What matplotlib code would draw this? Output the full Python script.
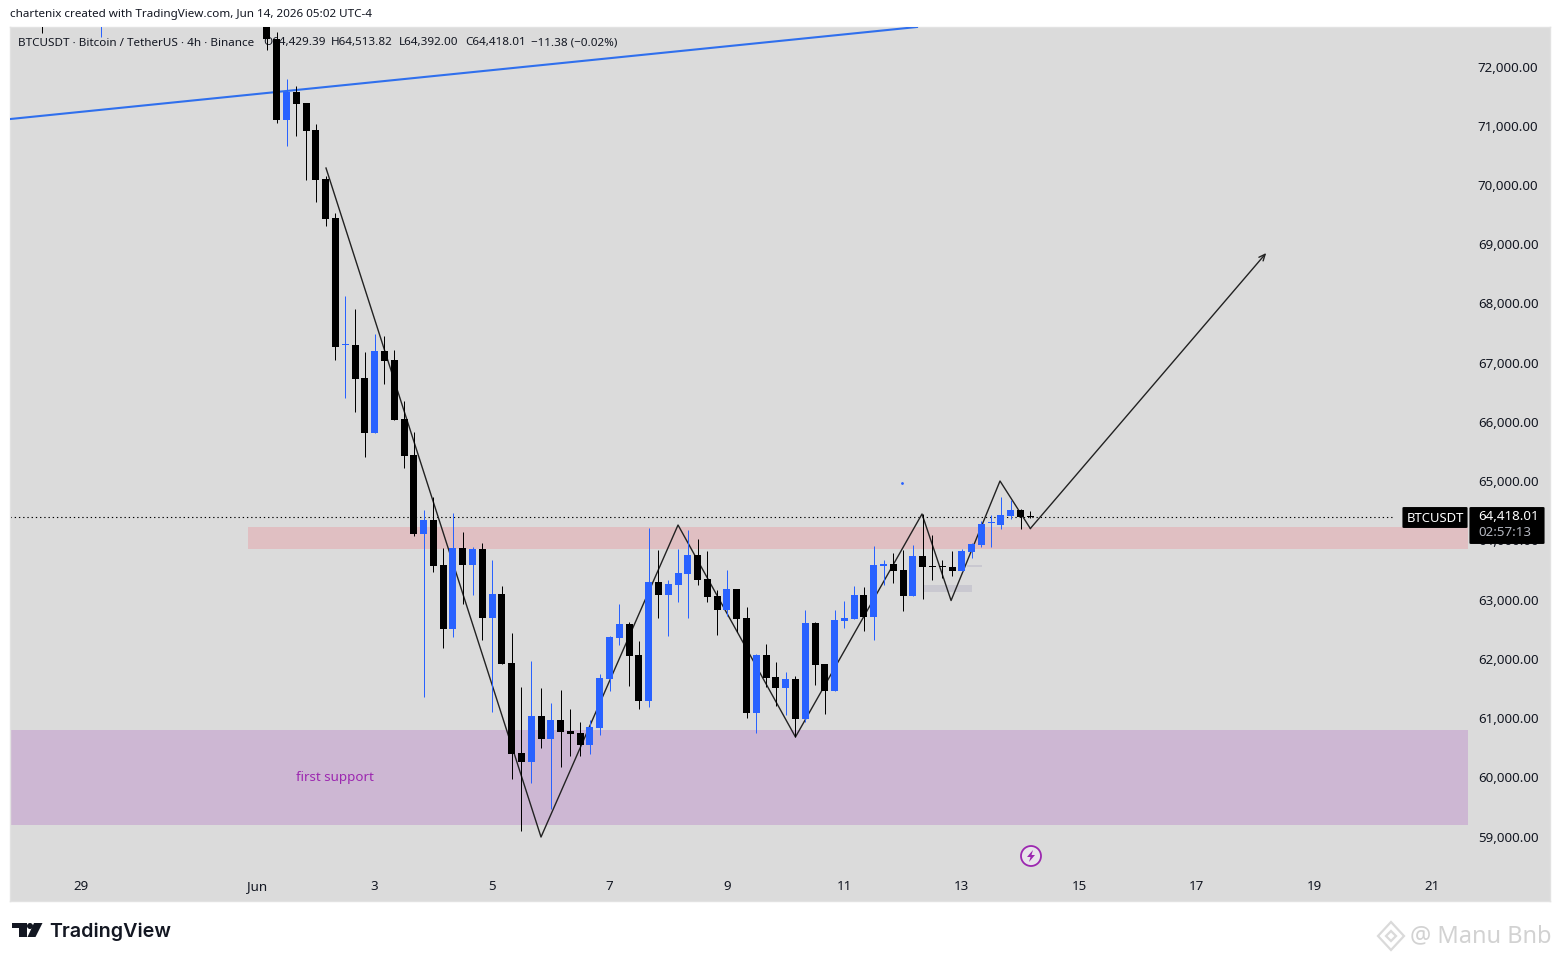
import matplotlib
matplotlib.use('Agg')
import matplotlib.pyplot as plt
from matplotlib.patches import Polygon, Circle, FancyBboxPatch, Rectangle
from matplotlib.transforms import IdentityTransform, ScaledTranslation

plt.rcParams['font.family'] = ['Noto Sans', 'DejaVu Sans']

# 4h candles, first one is index 0
open_ = [72971, 72481, 71114, 71586, 71401, 70945, 70117, 69459, 67307, 67315,
         66758, 65829, 67214, 67062, 66066, 65458, 64124, 64360, 63601, 62520,
         63888, 63601, 63871, 62706, 63111, 61946, 60427, 60275, 61051, 60663,
         60984, 60798, 60764, 60562, 60849, 61676, 62368, 62605, 62081, 61305,
         63314, 63094, 63263, 63449, 63769, 63364, 63077, 62841, 63195, 62706,
         61102, 62081, 61710, 61524, 61676, 61001, 62621, 61929, 61473, 62655,
         62689, 63094, 62723, 63584, 63618, 63516, 63077, 63752, 63590, 63590,
         63567, 63499, 63820, 63938, 64302, 64276, 64428, 64529, 64429.39]
high = [73139, 72599, 71806, 71688, 71401, 71046, 70168, 69543, 68142, 67923,
        67197, 67501, 67467, 67230, 66369, 65846, 64529, 64749, 63888, 64479,
        64158, 63905, 63972, 63685, 63246, 62453, 61541, 61980, 61524, 61271,
        61490, 61170, 60950, 60984, 61760, 62402, 62942, 62638, 62317, 64225,
        63854, 63347, 63871, 64191, 64040, 63837, 63178, 63516, 63195, 62892,
        62098, 62267, 61963, 61794, 61727, 62841, 62638, 61929, 62841, 62993,
        63246, 63229, 63921, 63685, 63803, 63854, 63938, 64462, 64107, 63685,
        63837, 63871, 63972, 64343, 64445, 64749, 64698, 64546, 64513.82]
low = [72295, 71063, 70675, 70843, 70101, 69729, 69324, 67062, 66420, 66184,
       65424, 65829, 66656, 66049, 65238, 64090, 61372, 63482, 62199, 62385,
       62942, 63094, 62334, 61119, 61929, 59988, 59110, 59920, 60511, 59481,
       60190, 60376, 60376, 60410, 60731, 61473, 62250, 61558, 61170, 61203,
       62706, 62402, 62976, 62706, 63263, 62976, 62419, 62740, 62470, 61017,
       60764, 61541, 61220, 61068, 60697, 60950, 61575, 61085, 61473, 62537,
       62689, 62486, 62334, 63263, 63297, 62824, 63077, 63027, 63347, 63381,
       63415, 63499, 63719, 63905, 63905, 64208, 64377, 64208, 64392.00]
close = [72481, 71114, 71586, 71384, 70928, 70101, 69442, 67281, 67324, 66741,
         65829, 67214, 67045, 66049, 65441, 64124, 64360, 63584, 62520, 63888,
         63601, 63871, 62706, 63111, 61929, 60410, 60275, 61051, 60663, 60984,
         60781, 60747, 60562, 60866, 61693, 62385, 62605, 62064, 61305, 63314,
         63094, 63280, 63465, 63769, 63347, 63060, 62841, 63195, 62689, 61102,
         62081, 61693, 61524, 61676, 61001, 62621, 61912, 61473, 62672, 62706,
         63094, 62723, 63601, 63618, 63499, 63077, 63752, 63567, 63573, 63573,
         63499, 63837, 63955, 64293, 64319, 64445, 64529, 64411, 64418.01]
# tails of older candles that only just reach into the top of the chart
old_idx = [-23, -17]
old_low = [72582, 72515]
old_high = [72800, 72800]

y_ticks = [59000, 60000, 61000, 62000, 63000, 64000, 65000, 66000, 67000, 68000, 69000, 70000, 71000, 72000]
x_ticks = [-19, -1, 11, 23, 35, 47, 59, 71, 83, 95, 107, 119]
x_labels = ['29', 'Jun', '3', '5', '7', '9', '11', '13', '15', '17', '19', '21']

trend_x = [-26.26, 66.42]
trend_y = [71130, 72684]
swing_x = [6.03, 28.0, 42.0, 54.0, 66.93, 69.9, 74.9, 78.0, 102.1]
swing_y = [70303, 59008, 64276, 60697, 64462, 63001, 65019, 64217, 68868]
resist_x = [-1.94, 122.7]
resist_y = [63871, 64242]
support_x = [-26.26, 122.7]
support_y = [59211, 60815]
grey_x = [67.0, 72.0]
grey_y = [63143, 63262]
grey2_x = [71.5, 73.1]
grey2_y = [63566, 63600]
last_price = 64418.01

BLUE = '#2962FF'
BLACK = '#000000'
PANEL = '#DBDBDB'


def fx(x):
    return x / 1560


def fy(y):
    return 1 - y / 961


fig = plt.figure(figsize=(15.6, 9.61), dpi=100, facecolor='white')
ax = fig.add_axes([fx(10), fy(901), fx(1540), 874 / 961], facecolor=PANEL)
ax.set_xlim(-26.26, 131.1)
ax.set_ylim(57928, 72684)
for s in ax.spines.values():
    s.set_color('#E2E2E2')
    s.set_linewidth(1)

ax.set_yticks(y_ticks)
ax.set_yticklabels(['{:,.2f}'.format(v) for v in y_ticks], fontsize=9.6, color='#131722', va='center_baseline')
ax.yaxis.tick_right()
ax.tick_params(axis='y', length=0, pad=-52)
up_one = ScaledTranslation(0, 1 / 100, fig.dpi_scale_trans)
for lab in ax.get_yticklabels():
    lab.set_transform(lab.get_transform() + up_one)
ax.set_xticks(x_ticks)
ax.set_xticklabels(x_labels, fontsize=9.6, color='#131722')
ax.tick_params(axis='x', length=0, pad=-15)

# zones
ax.add_patch(Rectangle((resist_x[0], resist_y[0]), resist_x[1] - resist_x[0], resist_y[1] - resist_y[0],
                       facecolor='#E0BFC2', edgecolor='none', zorder=1))
ax.add_patch(Rectangle((support_x[0], support_y[0]), support_x[1] - support_x[0], support_y[1] - support_y[0],
                       facecolor='#CDB7D3', edgecolor='none', zorder=1))
ax.add_patch(Rectangle((grey_x[0], grey_y[0]), grey_x[1] - grey_x[0], grey_y[1] - grey_y[0],
                       facecolor='#C9C8D0', edgecolor='none', zorder=1))
ax.add_patch(Rectangle((grey2_x[0], grey2_y[0]), grey2_x[1] - grey2_x[0], grey2_y[1] - grey2_y[0],
                       facecolor='#C9C8D0', edgecolor='none', zorder=1))
ax.text(6.95, 60021, 'first support', color='#9C27B0', fontsize=9.6, ha='center', va='center', zorder=2)

# last price
ax.plot([-26.26, 115.2], [last_price, last_price], color='black', lw=0.8, linestyle=(0, (1.2, 2.6)), zorder=2)

# drawings sit under the candles
ax.plot(trend_x, trend_y, color='#2F6FED', lw=1.5, zorder=3)
ax.plot(swing_x[:-1], swing_y[:-1], color='#222222', lw=1.0, zorder=3)
ax.annotate('', xy=(swing_x[-1], swing_y[-1]), xytext=(swing_x[-2], swing_y[-2]), zorder=3,
            arrowprops=dict(arrowstyle='->,head_length=0.45,head_width=0.2', color='#222222', lw=1.0,
                            shrinkA=0, shrinkB=0))
ax.plot([64.9], [64990], marker='o', ms=1.0, color=BLUE, zorder=3)

# legend line under the candles too
legend_parts = [(18, 'BTCUSDT · Bitcoin / TetherUS · 4h · Binance'), (263, 'O64,429.39'), (331, 'H64,513.82'),
                (399, 'L64,392.00'), (465, 'C64,418.01'), (531, '−11.38 (−0.02%)')]
for x, s in legend_parts:
    ax.text(fx(x), fy(43), s, transform=fig.transFigure, fontsize=8.4, color='#131722',
            va='center', ha='left', zorder=2.5)

# candles
idx = list(range(len(open_)))
cols = [BLUE if c > o else BLACK for o, c in zip(open_, close)]
ax.vlines(idx, low, high, colors=cols, lw=0.72, snap=True, zorder=4)
ax.vlines(old_idx, old_low, old_high, colors=[BLACK, BLUE], lw=0.72, snap=True, zorder=4)
bottoms = [min(o, c) for o, c in zip(open_, close)]
heights = [max(abs(c - o), 17) for o, c in zip(open_, close)]
ax.bar(idx, heights, bottom=bottoms, width=0.715, color=cols, linewidth=0, zorder=5)

# header
fig.text(fx(10), fy(15), 'chartenix created with TradingView.com, Jun 14, 2026 05:02 UTC-4', fontsize=8.4,
         color='#131722', va='center', ha='left')

# price labels over the axis
pix = fig.transFigure
ax.add_patch(FancyBboxPatch((fx(1404), fy(527)), fx(62), 19 / 961, boxstyle='round,pad=0.001,rounding_size=0.001',
                            transform=pix, facecolor='black', edgecolor='none', clip_on=False, zorder=10))
ax.add_patch(FancyBboxPatch((fx(1471), fy(543)), fx(72), 35 / 961, boxstyle='round,pad=0.001,rounding_size=0.001',
                            transform=pix, facecolor='black', edgecolor='none', clip_on=False, zorder=10))
ax.text(fx(1435), fy(518), 'BTCUSDT', transform=pix, color='white', fontsize=9.4, ha='center', va='center', zorder=11)
ax.text(fx(1478), fy(516), '64,418.01', transform=pix, color='white', fontsize=9.6, ha='left', va='center', zorder=11)
ax.text(fx(1478), fy(532), '02:57:13', transform=pix, color='#B2B5BE', fontsize=9.6, ha='left', va='center', zorder=11)

# lightning badge
ident = IdentityTransform()
ax.add_patch(Circle((1031, 961 - 856), 10, transform=ident, facecolor='#E8E4EA', edgecolor='#9C27B0', lw=1.3,
                    clip_on=False, zorder=10))
bolt = [(1033, 850), (1027, 857), (1030.5, 857), (1029, 862), (1035, 855), (1031.5, 855)]
ax.add_patch(Polygon([(x, 961 - y) for x, y in bolt], transform=ident, facecolor='#9C27B0', edgecolor='none',
                     clip_on=False, zorder=11))

# tradingview logo
logo_t = [(12, 923), (27, 923), (27, 937), (19, 937), (19, 928), (12, 928)]
logo_s = [(34, 923), (42.5, 923), (35.5, 937), (27.5, 937)]
for shape in (logo_t, logo_s):
    fig.add_artist(Polygon([(fx(x), fy(y)) for x, y in shape], transform=pix, facecolor='#131722', edgecolor='none'))
fig.add_artist(Circle((30, 961 - 926), 3, transform=ident, facecolor='#131722', edgecolor='none'))
fig.text(fx(49), fy(932), 'TradingView', fontsize=14.2, fontweight='semibold', family='Inter', color='#131722',
         va='center', ha='left')

# watermark
fig.text(fx(1410), fy(936), '@ Manu Bnb', fontsize=17, color='#D2D2D2', va='center', ha='left')
diamonds = [[(1391, 922), (1404, 936), (1391, 950), (1378, 936)], [(1391, 931), (1396, 936), (1391, 941), (1386, 936)]]
for d in diamonds:
    fig.add_artist(Polygon([(fx(x), fy(y)) for x, y in d], transform=pix, facecolor='none', edgecolor='#DADADA', lw=1.6))

fig.savefig('out.png', dpi=100)
